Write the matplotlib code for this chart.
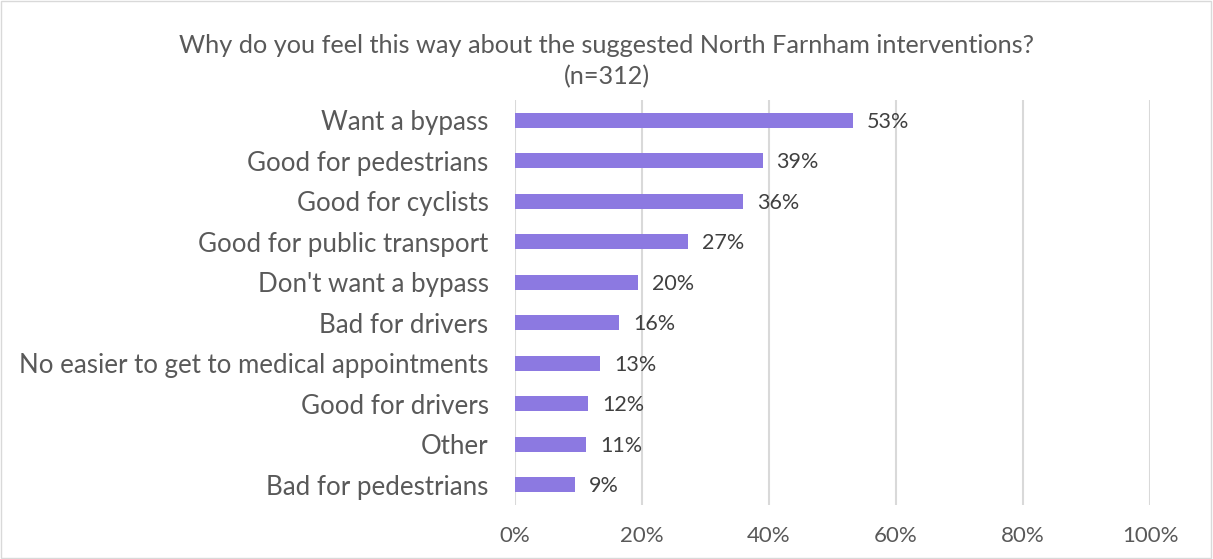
import matplotlib.pyplot as plt
from matplotlib.ticker import PercentFormatter

categories = ["Want a bypass", "Good for pedestrians", "Good for cyclists",
              "Good for public transport", "Don't want a bypass", "Bad for drivers",
              "No easier to get to medical appointments", "Good for drivers",
              "Other", "Bad for pedestrians"]
values = [0.532, 0.39, 0.359, 0.272, 0.194, 0.164, 0.134, 0.115, 0.112, 0.094]
value_labels = ["53%", "39%", "36%", "27%", "20%", "16%", "13%", "12%", "11%", "9%"]
x_ticks = [0, 0.2, 0.4, 0.6, 0.8, 1.0]

title = "Why do you feel this way about the suggested North Farnham interventions?\n(n=312)"

plt.rcParams['font.family'] = ['Lato', 'DejaVu Sans']
grey = '#595959'

fig = plt.figure(figsize=(12.13, 5.59), dpi=100)
ax = fig.add_axes([515/1213, 1 - 505/559, 635/1213, 405/559])

ypos = list(range(len(categories)))[::-1]
ax.barh(ypos, values, height=0.36, color='#8c79e1', zorder=3)

for y, v, lab in zip(ypos, values, value_labels):
    ax.annotate(lab, (v, y), xytext=(10, -1), textcoords='offset points',
                va='center', ha='left', fontsize=15.5, color='#404040')

ax.set_xlim(0, 1.0)
ax.set_ylim(-0.5, len(categories) - 0.5)
ax.set_xticks(x_ticks)
ax.xaxis.set_major_formatter(PercentFormatter(1.0, decimals=0))
ax.set_yticks(ypos)
ax.set_yticklabels(categories)
ax.tick_params(axis='y', length=0, pad=19, labelsize=18.6, labelcolor=grey)
ax.tick_params(axis='x', length=0, pad=15, labelsize=16, labelcolor=grey)
ax.grid(axis='x', color='#d9d9d9', linewidth=1.5, zorder=0)
for s in ax.spines.values():
    s.set_visible(False)

fig.text(0.5, 1 - 61/559, title, ha='center', va='center', fontsize=18.2,
         color=grey, linespacing=1.4)

# chart border
fig.patches.append(plt.Rectangle((0.001, 0.002), 0.997, 0.996, transform=fig.transFigure,
                                 fill=False, edgecolor='#d9d9d9', linewidth=1))

fig.savefig('out.png', dpi=100)
